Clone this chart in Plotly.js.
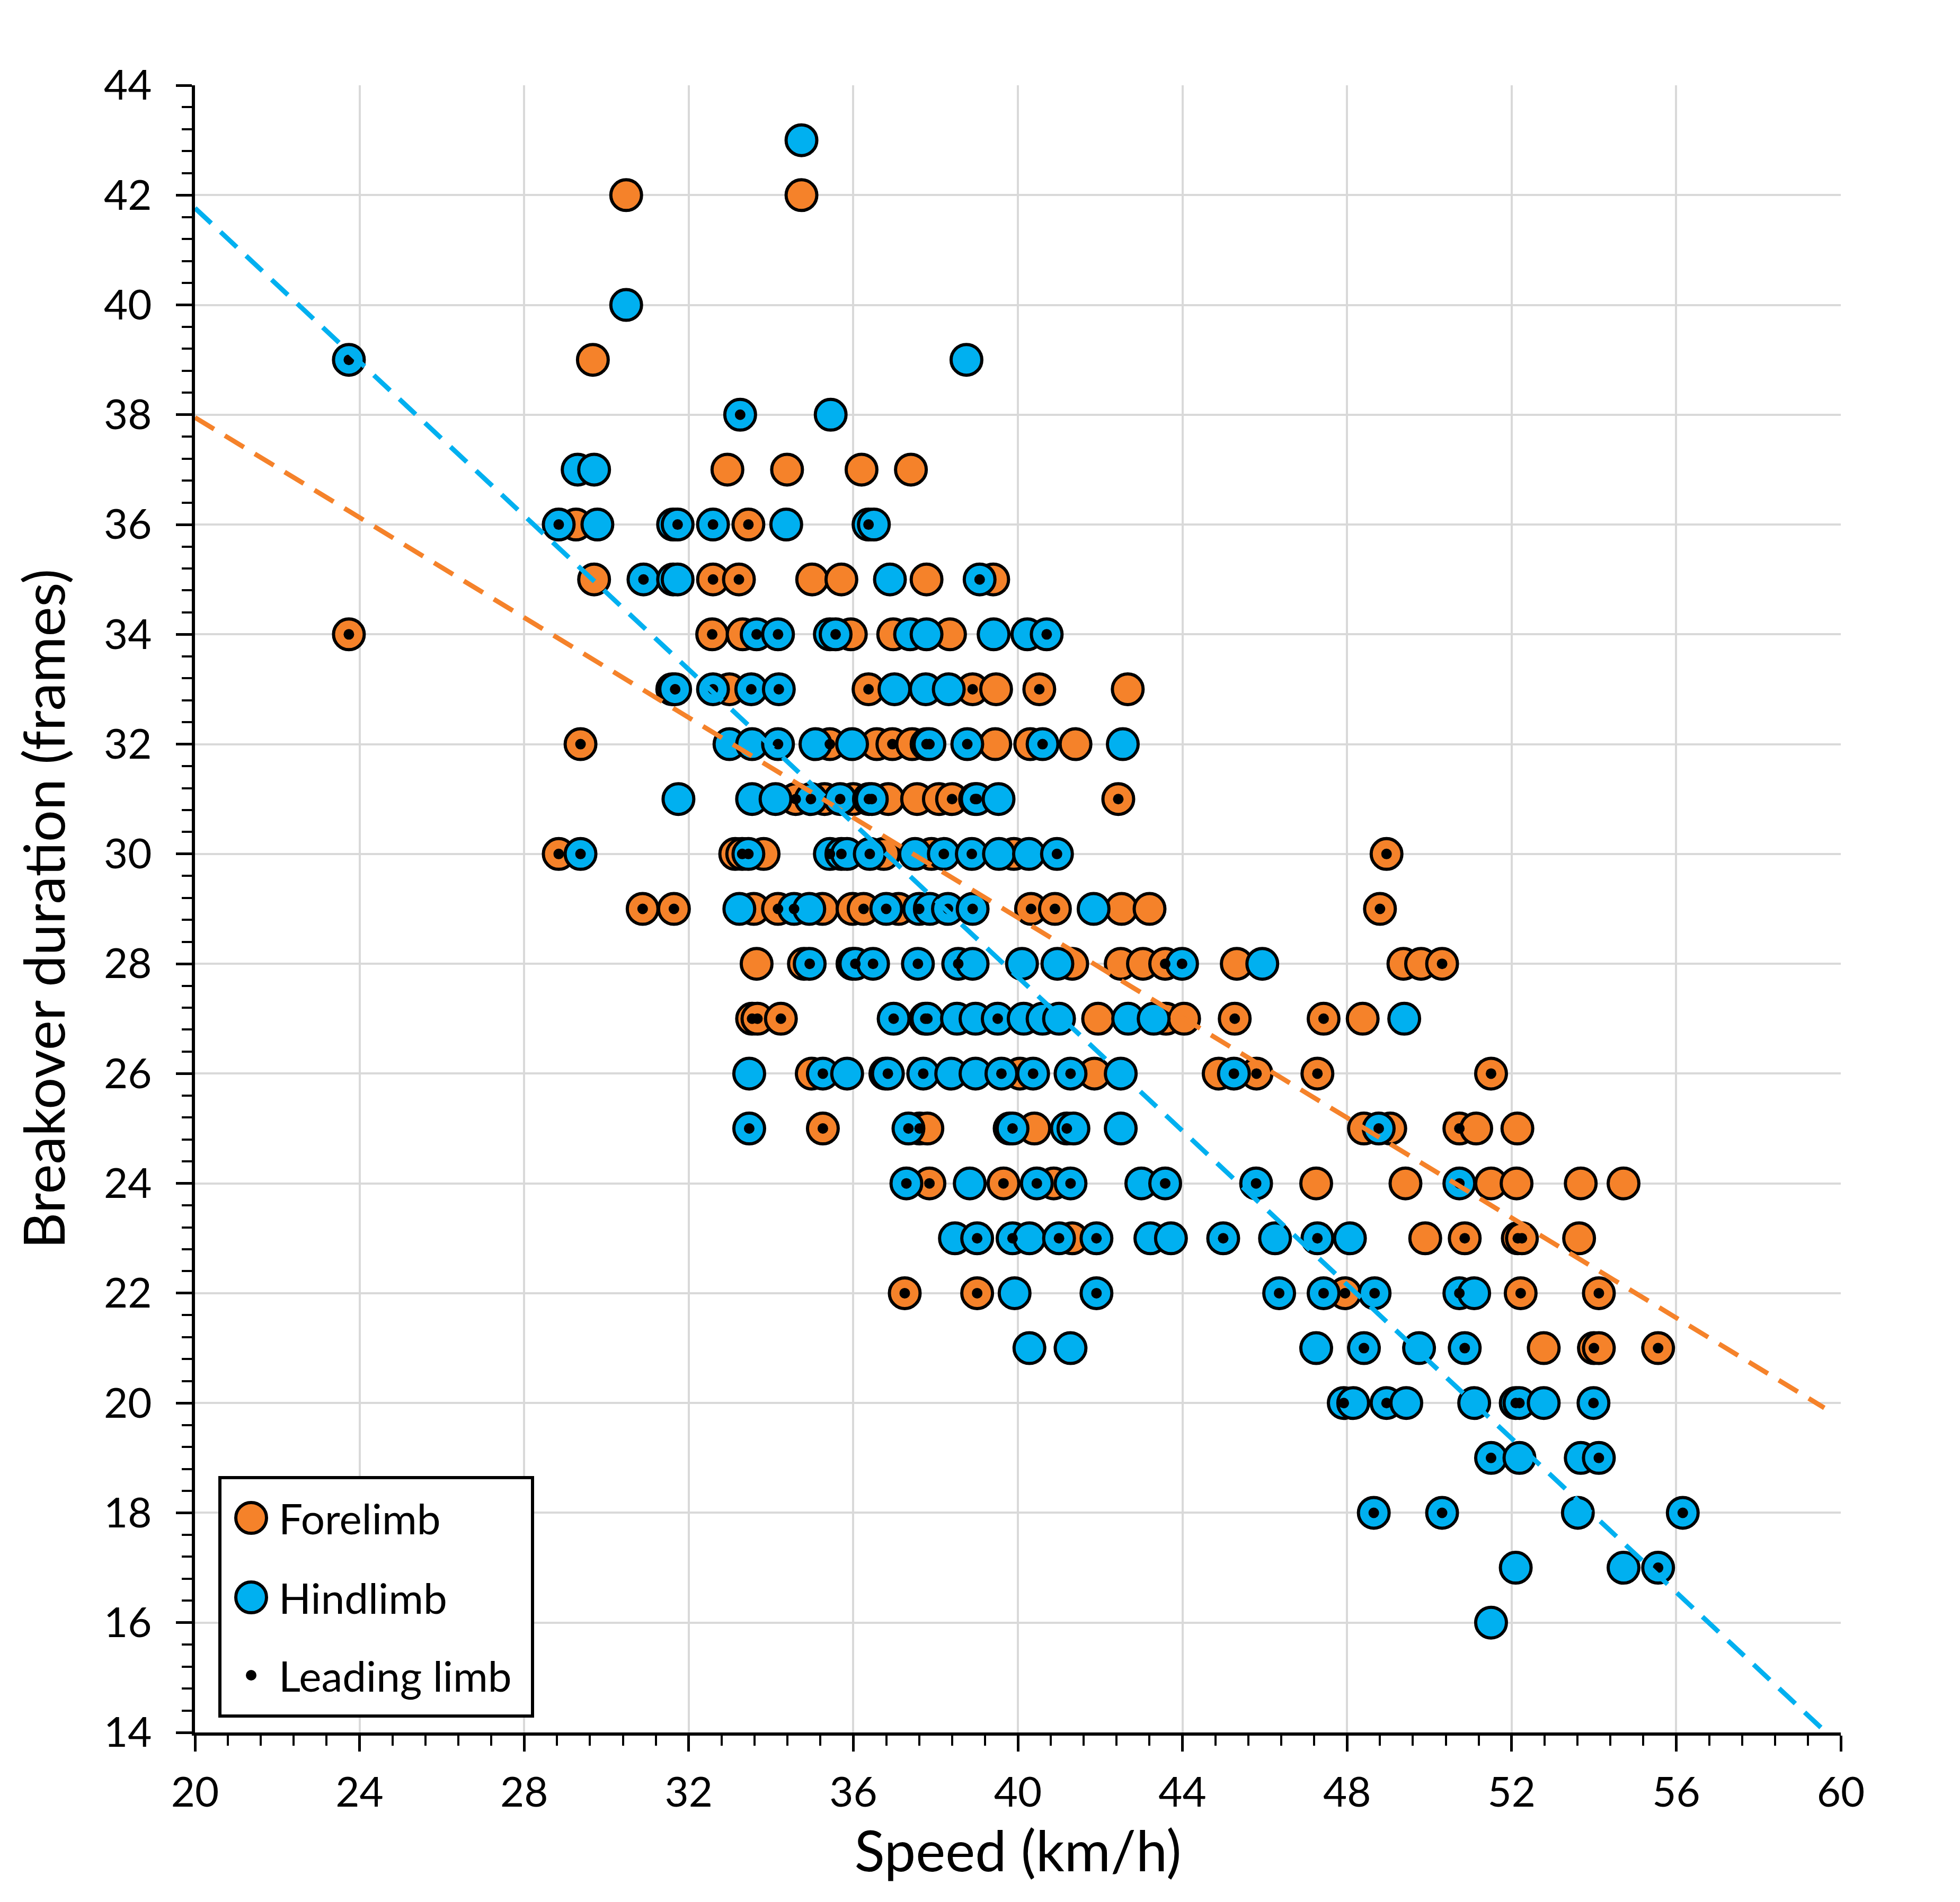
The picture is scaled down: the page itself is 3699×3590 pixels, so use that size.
<!DOCTYPE html>
<html>
<head>
<meta charset="utf-8">
<script src="https://cdn.plot.ly/plotly-3.0.1.min.js"></script>
<style>
  body { margin: 0; background: #fff; }
  #chart { width: 3699px; height: 3590px; }
</style>
</head>
<body>
<div id="chart"></div>
<script>
// [speed km/h, breakover frames, leading limb 1/0]
var forelimb = [
    [30.48,42,0],[34.74,42,0],
    [29.67,39,0],
    [32.94,37,0],[34.39,37,0],[36.2,37,0],[37.4,37,0],
    [29.26,36,0],[33.45,36,1],
    [29.7,35,0],[32.59,35,1],[33.22,35,1],[35.0,35,0],[35.71,35,0],[37.78,35,0],[39.4,35,0],
    [23.74,34,1],[32.57,34,1],[33.31,34,0],[35.94,34,0],[36.97,34,0],[38.35,34,0],
    [32.99,33,0],[36.37,33,1],[38.9,33,1],[39.47,33,0],[40.52,33,1],[42.67,33,0],
    [29.37,32,1],[35.43,32,1],[36.57,32,0],[36.95,32,1],[37.43,32,0],[39.45,32,0],[40.3,32,0],[41.4,32,0],
    [34.6,31,1],[35.3,31,0],[36.0,31,0],[36.85,31,0],[37.55,31,0],[38.08,31,0],[38.4,31,1],[42.44,31,1],
    [28.84,30,1],[33.13,30,0],[33.3,30,1],[33.82,30,0],[36.74,30,0],[37.9,30,0],[39.9,30,0],[48.96,30,1],
    [30.88,29,1],[31.64,29,1],[33.58,29,0],[34.17,29,1],[35.25,29,0],[35.98,29,0],[36.25,29,1],[37.1,29,0],
    [40.32,29,1],[40.9,29,1],[42.52,29,0],[43.2,29,0],[48.8,29,1],
    [33.65,28,0],[34.8,28,0],[41.32,28,0],[42.5,28,0],[43.04,28,0],[43.58,28,1],[45.32,28,0],[49.37,28,0],
    [49.8,28,0],[50.31,28,1],
    [33.54,27,1],[33.67,27,1],[34.24,27,1],[41.95,27,0],[43.6,27,0],[44.04,27,0],[45.27,27,1],[47.43,27,1],[48.38,27,0],
    [34.99,26,0],[36.78,26,0],[40.05,26,0],[41.86,26,0],[44.88,26,0],[45.8,26,1],[47.28,26,1],[51.5,26,1],
    [35.26,25,1],[37.61,25,1],[37.8,25,0],[39.8,25,0],[40.4,25,0],[48.41,25,0],[49.05,25,0],[50.73,25,1],
    [51.14,25,0],[52.14,25,0],
    [37.85,24,1],[39.65,24,1],[40.87,24,0],[47.25,24,0],[49.42,24,0],[51.5,24,0],[52.12,24,0],[53.68,24,0],[54.72,24,0],
    [41.32,23,0],[49.9,23,0],[50.86,23,1],[52.15,23,1],[52.25,23,1],[53.64,23,0],
    [37.25,22,1],[39.01,22,1],[47.95,22,1],[52.22,22,1],[54.12,22,1],
    [52.78,21,0],[54.0,21,1],[54.12,21,0],[55.56,21,1]
];

var hindlimb = [
    [34.74,43,0],
    [30.48,40,0],
    [23.74,39,1],[38.75,39,0],
    [33.25,38,1],[35.45,38,0],
    [29.3,37,0],[29.7,37,0],
    [28.84,36,1],[29.78,36,0],[31.62,36,0],[31.73,36,1],[32.59,36,1],[34.37,36,0],[36.37,36,1],[36.5,36,0],
    [30.9,35,1],[31.62,35,0],[31.73,35,0],[36.89,35,0],[39.07,35,1],
    [33.65,34,1],[34.17,34,1],[35.43,34,0],[35.57,34,1],[37.38,34,0],[37.78,34,0],[39.41,34,0],[40.23,34,0],[40.7,34,1],
    [31.6,33,0],[31.67,33,1],[32.59,33,1],[33.52,33,1],[34.19,33,1],[37.0,33,0],[37.76,33,0],[38.32,33,0],
    [32.99,32,0],[33.54,32,0],[34.17,32,1],[35.08,32,0],[35.97,32,0],[37.78,32,1],[37.85,32,1],[38.77,32,1],
    [40.6,32,1],[42.55,32,0],
    [31.75,31,0],[33.54,31,0],[34.11,31,0],[34.97,31,1],[35.68,31,1],[36.38,31,1],[36.45,31,1],[38.96,31,1],
    [39.0,31,1],[39.53,31,0],
    [29.37,30,1],[33.45,30,1],[35.43,30,1],[35.71,30,1],[35.85,30,0],[36.4,30,1],[37.5,30,0],[38.2,30,1],
    [38.88,30,1],[39.54,30,0],[40.27,30,0],[40.95,30,1],
    [33.23,29,0],[34.56,29,1],[34.93,29,0],[36.8,29,1],[37.6,29,1],[37.86,29,0],[38.3,29,1],[38.9,29,1],[41.84,29,0],
    [34.94,28,1],[35.98,28,0],[36.05,28,1],[36.48,28,1],[37.57,28,1],[38.55,28,1],[38.9,28,0],[40.1,28,0],
    [40.96,28,0],[43.99,28,1],[45.94,28,0],
    [36.98,27,1],[37.75,27,1],[37.8,27,1],[38.52,27,0],[38.97,27,0],[39.51,27,1],[40.14,27,0],[40.6,27,0],
    [41.0,27,0],[42.68,27,0],[43.3,27,0],[49.39,27,0],
    [33.47,26,0],[35.26,26,1],[35.85,26,0],[36.84,26,1],[37.7,26,1],[38.38,26,0],[38.97,26,0],[39.6,26,1],
    [40.37,26,1],[41.28,26,1],[42.5,26,0],[45.25,26,1],
    [33.47,25,1],[37.34,25,1],[39.87,25,1],[41.19,25,1],[41.35,25,0],[42.5,25,0],[48.77,25,1],
    [37.29,24,1],[38.83,24,0],[40.46,24,1],[41.28,24,1],[43.0,24,0],[43.58,24,1],[45.79,24,1],[50.73,24,1],
    [38.47,23,0],[39.01,23,1],[39.87,23,1],[40.28,23,0],[41.0,23,1],[41.91,23,1],[43.22,23,0],[43.72,23,0],
    [44.99,23,1],[46.25,23,0],[47.28,23,1],[48.07,23,0],
    [39.92,22,0],[41.91,22,1],[46.35,22,1],[47.43,22,1],[48.67,22,1],[50.73,22,1],[51.09,22,0],
    [40.28,21,0],[41.28,21,0],[47.25,21,0],[48.41,21,1],[49.75,21,0],[50.86,21,1],
    [47.92,20,1],[48.15,20,0],[48.96,20,1],[49.44,20,0],[51.09,20,0],[52.1,20,1],[52.19,20,1],[52.78,20,0],[53.99,20,1],
    [51.5,19,1],[52.19,19,0],[53.68,19,0],[54.12,19,1],
    [48.65,18,1],[50.31,18,1],[53.61,18,0],[56.16,18,1],
    [52.1,17,0],[54.72,17,0],[55.56,17,1],
    [51.5,16,0]
];

// linear trendlines: [intercept, slope]
var foreTrend = [47.06, -0.4555];
var hindTrend = [55.77, -0.7003];
var trendSpan = [20, 59.6];

var legendLabels = ["Forelimb", "Hindlimb", "Leading limb"];

var foreColor = "#F5822A";
var hindColor = "#00B0F0";

function col(rows, i) {
    return rows.map(function (r) { return r[i]; });
}

var leadRows = forelimb.concat(hindlimb).filter(function (r) { return r[2] == 1; });

function trendY(t) {
    return trendSpan.map(function (x) { return t[0] + t[1] * x; });
}

var trace_fore = {
    x: col(forelimb, 0),
    y: col(forelimb, 1),
    name: legendLabels[0],
    mode: 'markers',
    type: 'scatter',
    marker: {size: 58, color: foreColor, line: {color: 'black', width: 6}}
};

var trace_hind = {
    x: col(hindlimb, 0),
    y: col(hindlimb, 1),
    name: legendLabels[1],
    mode: 'markers',
    type: 'scatter',
    marker: {size: 58, color: hindColor, line: {color: 'black', width: 6}}
};

var trace_lead = {
    x: col(leadRows, 0),
    y: col(leadRows, 1),
    name: legendLabels[2],
    mode: 'markers',
    type: 'scatter',
    marker: {size: 20, color: 'black'}
};

var trace_fore_fit = {
    x: trendSpan,
    y: trendY(foreTrend),
    mode: 'lines',
    type: 'scatter',
    line: {color: foreColor, width: 9, dash: '42px,24px'}
};

var trace_hind_fit = {
    x: trendSpan,
    y: trendY(hindTrend),
    mode: 'lines',
    type: 'scatter',
    line: {color: hindColor, width: 9, dash: '42px,24px'}
};

// plot area in pixels, used for the hand-made legend
var L = 368, R = 3474, T = 161, B = 3270;
function px(x) { return (x - L) / (R - L); }
function py(y) { return (B - y) / (B - T); }

var font = "Lato, 'Open Sans', sans-serif";
var legendRowsY = [2865, 3015, 3162];
var shapes = [{
    type: 'rect', xref: 'paper', yref: 'paper',
    x0: px(415), x1: px(1005), y0: py(3239), y1: py(2789),
    line: {color: 'black', width: 6}, fillcolor: 'white', layer: 'above'
}];
var symbolSize = [29, 29, 10];
var symbolFill = [foreColor, hindColor, 'black'];
var symbolLine = [6, 6, 0];
var annotations = [];
for (var i = 0; i < legendLabels.length; i++) {
    shapes.push({
        type: 'circle', xref: 'paper', yref: 'paper',
        xsizemode: 'pixel', ysizemode: 'pixel',
        xanchor: px(474), yanchor: py(legendRowsY[i]),
        x0: -symbolSize[i], x1: symbolSize[i], y0: -symbolSize[i], y1: symbolSize[i],
        fillcolor: symbolFill[i], line: {color: 'black', width: symbolLine[i]}, layer: 'above'
    });
    annotations.push({
        xref: 'paper', yref: 'paper',
        x: px(524), y: py(legendRowsY[i]),
        xanchor: 'left', yanchor: 'middle',
        text: legendLabels[i], showarrow: false,
        font: {family: font, size: 80, color: 'black'}
    });
}

var axisCommon = {
    showgrid: true,
    gridcolor: '#D9D9D9',
    gridwidth: 4,
    showline: true,
    linecolor: 'black',
    linewidth: 6,
    ticks: 'outside',
    ticklen: 30,
    tickwidth: 5,
    tickcolor: 'black',
    zeroline: false,
    tickfont: {family: font, size: 78, color: 'black'}
};

var layout = {
    width: 3699,
    height: 3590,
    margin: {l: L, r: 3699 - R, t: T, b: 3590 - B, pad: 0},
    paper_bgcolor: 'white',
    plot_bgcolor: 'white',
    showlegend: false,
    font: {family: font, color: 'black'},
    xaxis: Object.assign({}, axisCommon, {
        range: [20, 60],
        tick0: 20,
        dtick: 4,
        ticklabelstandoff: 10,
        minor: {dtick: 0.8, ticks: 'outside', ticklen: 19, tickwidth: 4, tickcolor: 'black', showgrid: false},
        title: {text: 'Speed (km/h)', font: {family: font, size: 106}, standoff: 30}
    }),
    yaxis: Object.assign({}, axisCommon, {
        range: [14, 44],
        tick0: 14,
        dtick: 2,
        ticklabelstandoff: 30,
        minor: {dtick: 0.4, ticks: 'outside', ticklen: 19, tickwidth: 4, tickcolor: 'black', showgrid: false},
        title: {text: 'Breakover duration (frames)', font: {family: font, size: 106}, standoff: 40}
    }),
    shapes: shapes,
    annotations: annotations
};

var data = [trace_fore, trace_hind, trace_lead, trace_fore_fit, trace_hind_fit];
Plotly.newPlot('chart', data, layout, {displayModeBar: false, staticPlot: true});
</script>
</body>
</html>
